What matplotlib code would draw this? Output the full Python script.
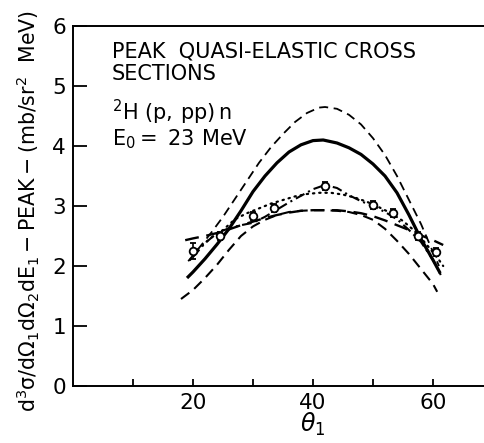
import matplotlib
matplotlib.use("Agg")
import matplotlib.pyplot as plt

plt.rcParams['font.family'] = ['DejaVu Sans']
plt.rcParams['mathtext.fontset'] = 'dejavusans'
plt.rcParams['lines.scale_dashes'] = False

# ---- data ----
theta_upper = [19.2, 21, 23, 25, 27, 29, 31, 33, 35, 37, 39, 41, 42, 44, 46, 48, 50, 52, 54, 56, 58, 59.5, 61]
sig_upper = [2.08, 2.3, 2.55, 2.82, 3.12, 3.42, 3.72, 3.98, 4.2, 4.4, 4.55, 4.64, 4.65, 4.62, 4.52, 4.36, 4.13, 3.85, 3.5, 3.1, 2.7, 2.35, 2.0]

theta_solid = [19, 20, 22, 24, 26, 28, 30, 32, 34, 36, 38, 40, 41.7, 44, 46, 48, 50, 52, 54, 56, 58, 60, 61.2]
sig_solid = [1.8, 1.9, 2.12, 2.36, 2.62, 2.92, 3.24, 3.5, 3.72, 3.9, 4.02, 4.09, 4.1, 4.05, 3.97, 3.86, 3.7, 3.5, 3.22, 2.85, 2.45, 2.1, 1.88]

theta_lower = [18, 20, 22, 24, 26, 28, 30, 32, 34, 36, 38, 40, 42, 44, 46, 48, 50, 52, 54, 56, 58, 60, 60.7]
sig_lower = [1.45, 1.6, 1.8, 2.02, 2.27, 2.5, 2.66, 2.77, 2.85, 2.9, 2.92, 2.93, 2.93, 2.92, 2.9, 2.85, 2.77, 2.62, 2.42, 2.2, 1.95, 1.7, 1.57]

theta_flat = [18.7, 20, 22, 24, 26, 28, 30, 32, 34, 36, 38, 40, 42, 44, 46, 48, 50, 52, 54, 56, 58, 60, 61.7]
sig_flat = [2.43, 2.46, 2.5, 2.55, 2.61, 2.68, 2.74, 2.8, 2.85, 2.89, 2.92, 2.93, 2.93, 2.93, 2.91, 2.88, 2.83, 2.76, 2.68, 2.6, 2.51, 2.43, 2.35]

theta_dashdot = [20, 22, 24, 26, 28, 30, 32, 34, 36, 38, 40, 42, 44, 46, 48, 50, 52, 54, 56, 58, 60, 61.3]
sig_dashdot = [2.15, 2.38, 2.55, 2.63, 2.68, 2.72, 2.82, 2.94, 3.06, 3.17, 3.28, 3.35, 3.3, 3.18, 3.08, 3.0, 2.9, 2.78, 2.6, 2.4, 2.1, 1.85]

theta_dotted = [19.5, 21, 23, 25, 27, 29, 31, 33, 35, 37, 39, 41, 43, 45, 47, 49, 51, 53, 55, 57, 59, 61, 61.7]
sig_dotted = [2.1, 2.3, 2.47, 2.6, 2.78, 2.88, 2.96, 3.04, 3.1, 3.16, 3.2, 3.22, 3.22, 3.19, 3.14, 3.07, 2.98, 2.88, 2.75, 2.58, 2.35, 2.1, 2.0]

theta_data = [20, 24.5, 30, 33.5, 42, 50, 53.3, 57.5, 60.5]
sig_data = [2.25, 2.5, 2.83, 2.97, 3.33, 3.02, 2.88, 2.5, 2.23]
sig_err = [0.13, 0.07, 0.07, 0.07, 0.07, 0.07, 0.07, 0.07, 0.07]

x_ticks = [10, 20, 30, 40, 50, 60]
x_ticklabels = ['', '20', '', '40', '', '60']
y_ticks = [0, 1, 2, 3, 4, 5, 6]

W, H = 485, 443
fig = plt.figure(figsize=(W / 100, H / 100), dpi=100)
ax = fig.add_axes([73 / W, 57 / H, 412 / W, 360 / H])
ax.set_xlim(0, 412 / 6)
ax.set_ylim(0, 6)

k = 'black'
ax.plot(theta_upper, sig_upper, color=k, lw=1.3, dashes=(6.5, 4))
ax.plot(theta_solid, sig_solid, color=k, lw=2.3, solid_capstyle='butt')
ax.plot(theta_lower, sig_lower, color=k, lw=1.5, dashes=(7.5, 4.5))
ax.plot(theta_flat, sig_flat, color=k, lw=1.7, dashes=(10, 5.5))
ax.plot(theta_dashdot, sig_dashdot, color=k, lw=1.5, dashes=(7, 3, 1.5, 3))
ax.plot(theta_dotted, sig_dotted, color=k, lw=1.6, dashes=(1.0, 3.5), dash_capstyle='round')
ax.errorbar(theta_data, sig_data, yerr=sig_err, fmt='o', ms=5.5, mfc='white', mec=k,
            mew=1.3, ecolor=k, elinewidth=1.2, capsize=2, capthick=1.2, zorder=5)

for s in ['left', 'bottom', 'top']:
    ax.spines[s].set_linewidth(1.4)
ax.spines['right'].set_visible(False)

ax.set_xticks(x_ticks)
ax.set_xticklabels(x_ticklabels)
ax.set_yticks(y_ticks)
ax.tick_params(axis='x', direction='in', length=5, width=1.3, labelsize=15.5, pad=5, top=False)
ax.tick_params(axis='y', direction='in', length=10, width=1.3, labelsize=15.5, pad=5, right=False)

def ftxt(px, py, s, **kw):
    fig.text(px / W, 1 - py / H, s, va='baseline', ha='left', **kw)

ftxt(112, 58, 'PEAK  QUASI-ELASTIC CROSS', fontsize=15)
ftxt(112, 80, 'SECTIONS', fontsize=15)
ftxt(112, 120, r'$\mathregular{^2H\ (p,\,pp)\,n}$', fontsize=15)
ftxt(112, 145, r'$\mathregular{E_0{=}\ 23\ MeV}$', fontsize=15)

fig.text(313 / W, 1 - 432 / H, r'$\theta_1$', ha='center', va='baseline', fontsize=17)
fig.text(28 / W, 1 - 211 / H,
         r'$\mathregular{d^3\sigma/d\Omega_1 d\Omega_2 dE_1 - PEAK - (mb/sr^2\ \ MeV)}$',
         rotation=90, ha='center', va='center', fontsize=14.8)

fig.savefig('out.png', dpi=100)
